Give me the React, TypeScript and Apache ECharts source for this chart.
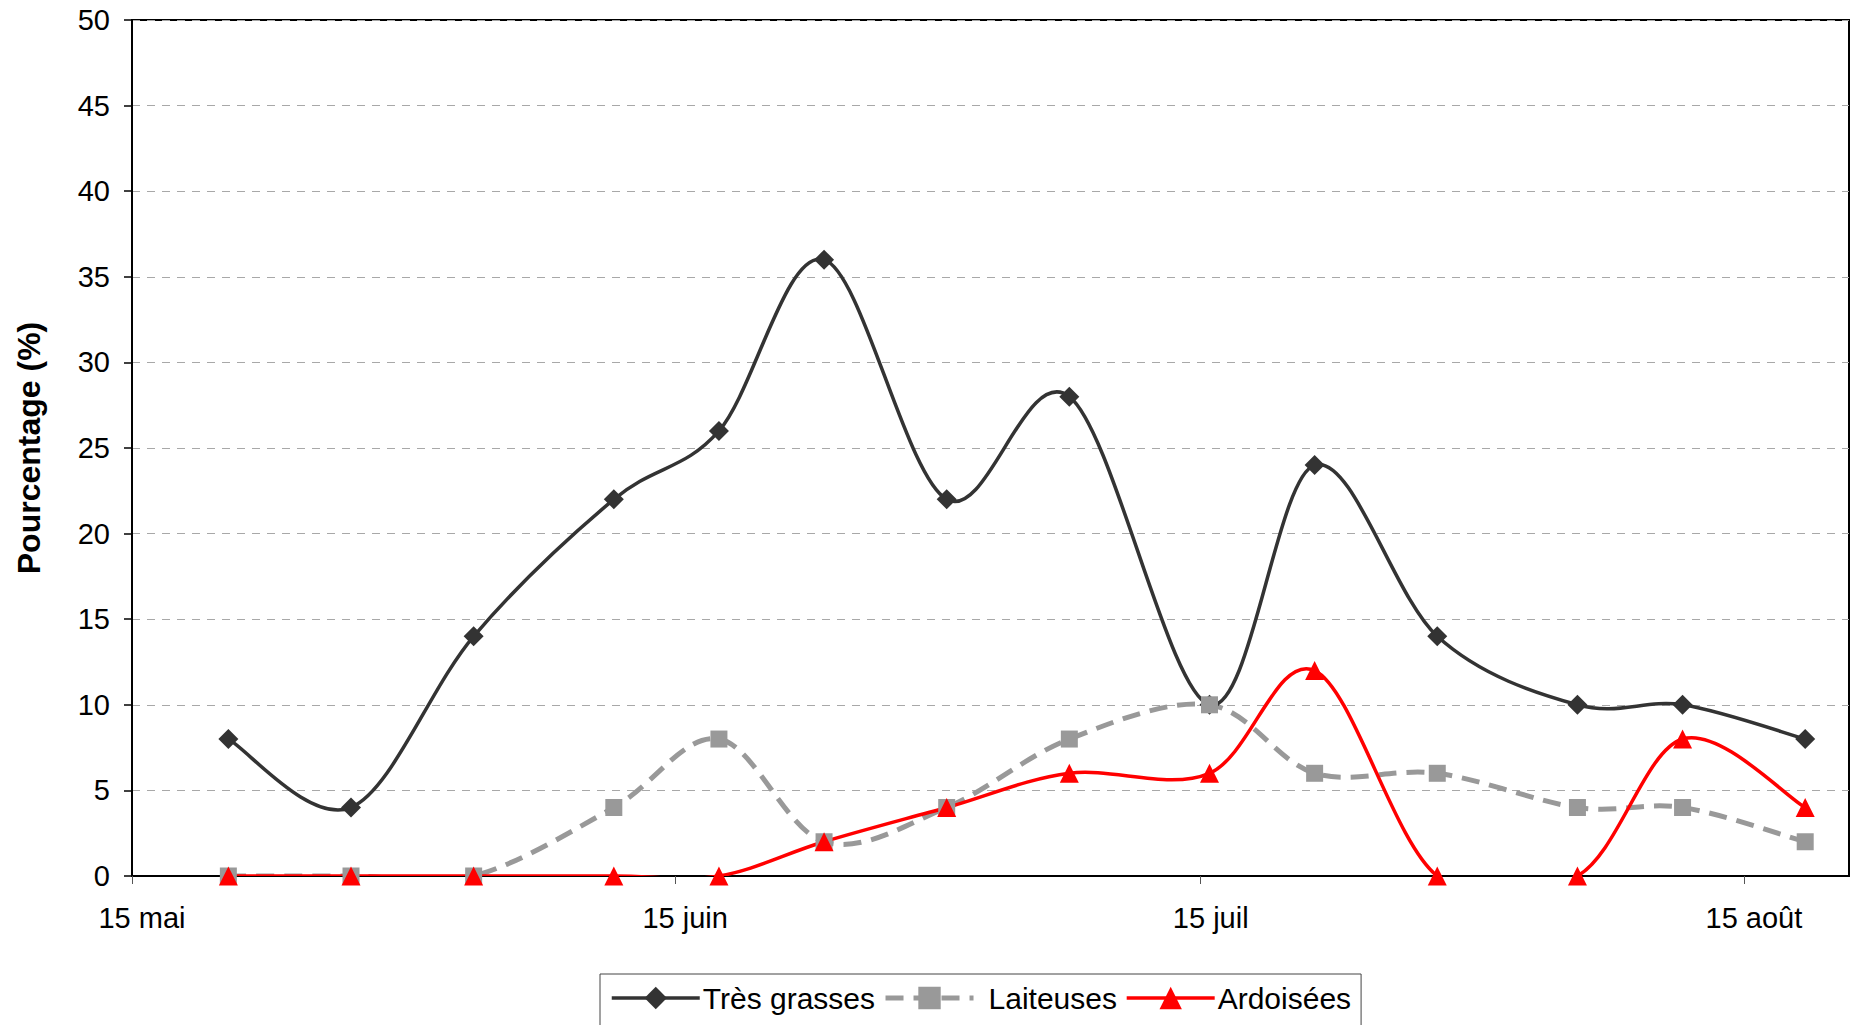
import React, { useEffect, useRef } from "react";
import * as echarts from "echarts";

// Sampling dates (month-day)
const sampleDates = ["05-20", "05-27", "06-03", "06-11", "06-17", "06-23", "06-30", "07-07", "07-15", "07-21", "07-28", "08-05", "08-11", "08-18"];
const tresGrasses = [8, 4, 14, 22, 26, 36, 22, 28, 10, 24, 14, 10, 10, 8];
const laiteuses = [0, 0, 0, 4, 8, 2, 4, 8, 10, 6, 6, 4, 4, 2];
const ardoisees = [0, 0, 0, 0, 0, 2, 4, 6, 6, 12, 0, 0, 8, 4];

const tickDates = ["05-15", "06-15", "07-15", "08-15"];
const tickLabels = ["15 mai", "15 juin", "15 juil", "15 août"];
const axisEndDate = "08-21";

const seriesNames = ["Très grasses", "Laiteuses", "Ardoisées"];

function dayOffset(md: string): number {
  const [m, d] = md.split("-").map(Number);
  const base = Date.UTC(2000, 4, 15);
  return (Date.UTC(2000, m - 1, d) - base) / 86400000;
}

const FONT = "'Liberation Sans', Arial, sans-serif";

type Style = { color: string; width: number; dash?: number[] };

const styles: Style[] = [
  { color: "#333333", width: 3.5 },
  { color: "#999999", width: 5, dash: [18, 10] },
  { color: "#ff0000", width: 3.5 },
];

export default function App() {
  const ref = useRef<HTMLDivElement>(null);
  useEffect(() => {
    if (!ref.current) return;
    const chart = echarts.init(ref.current, undefined, { renderer: "svg" });
    const xs = sampleDates.map((d) => dayOffset(d) + 0.5);
    const tickVals = tickDates.map(dayOffset);
    const mk = (vals: number[]) => vals.map((v, i) => [xs[i], v]);

    // Excel-like (Catmull-Rom) smoothed curve drawn through the axes' scales
    const curveSeries = (vals: number[], st: Style) => ({
      type: "custom",
      clip: true,
      silent: true,
      data: mk(vals),
      encode: { x: 0, y: 1 },
      renderItem: (params: any, api: any) => {
        if (params.dataIndex !== 0) return null;
        const pts = vals.map((v, i) => api.coord([xs[i], v]));
        const n = pts.length;
        let d = `M${pts[0][0]},${pts[0][1]}`;
        for (let i = 0; i < n - 1; i++) {
          const p0 = pts[Math.max(i - 1, 0)];
          const p1 = pts[i];
          const p2 = pts[i + 1];
          const p3 = pts[Math.min(i + 2, n - 1)];
          const c1x = p1[0] + (p2[0] - p0[0]) / 6;
          const c1y = p1[1] + (p2[1] - p0[1]) / 6;
          const c2x = p2[0] - (p3[0] - p1[0]) / 6;
          const c2y = p2[1] - (p3[1] - p1[1]) / 6;
          d += ` C${c1x},${c1y} ${c2x},${c2y} ${p2[0]},${p2[1]}`;
        }
        return {
          type: "path",
          shape: { pathData: d },
          style: {
            fill: "none",
            stroke: st.color,
            lineWidth: st.width,
            lineDash: st.dash || null,
            lineJoin: "round",
          },
        };
      },
    });

    const markerSeries = (name: string, vals: number[], symbol: string, size: number, st: Style) => ({
      name,
      type: "line",
      data: mk(vals),
      symbol,
      symbolSize: size,
      showAllSymbol: true,
      lineStyle: { color: st.color, width: st.width, opacity: 0, type: st.dash || "solid" },
      itemStyle: { color: st.color },
      clip: false,
    });

    chart.setOption({
      animation: false,
      backgroundColor: "#fff",
      textStyle: { fontFamily: FONT },
      grid: {
        left: 132,
        top: 20,
        right: 2,
        bottom: 149,
        show: true,
        borderColor: "#000",
        borderWidth: 2,
        containLabel: false,
      },
      legend: {
        left: 600,
        top: 974,
        orient: "horizontal",
        padding: [9, 10, 30, 10],
        itemWidth: 88,
        itemHeight: 28,
        itemGap: 8,
        borderColor: "#444",
        borderWidth: 1,
        textStyle: { fontSize: 30, color: "#000", fontFamily: FONT, padding: [0, 0, 0, -2] },
        data: seriesNames.map((name, i) => ({
          name,
          lineStyle: {
            color: styles[i].color,
            width: styles[i].width,
            opacity: 1,
            type: styles[i].dash || "solid",
          },
          textStyle: i === 1 ? { padding: [0, 0, 0, 10] } : undefined,
        })),
      },
      xAxis: {
        type: "value",
        min: 0,
        max: dayOffset(axisEndDate),
        axisLine: { show: true, onZero: false, lineStyle: { color: "#000", width: 2 } },
        axisTick: {
          show: true,
          length: 8,
          customValues: tickVals,
          lineStyle: { color: "#555", width: 1 },
        },
        axisLabel: {
          customValues: tickVals,
          fontSize: 29,
          color: "#000",
          margin: 27,
          fontFamily: FONT,
          padding: [0, 0, 0, 20],
          formatter: (v: number) => {
            const i = tickVals.findIndex((t) => Math.abs(t - v) < 0.01);
            return i >= 0 ? tickLabels[i] : "";
          },
        },
        splitLine: { show: false },
      },
      yAxis: {
        type: "value",
        min: 0,
        max: 50,
        interval: 5,
        name: "Pourcentage (%)",
        nameLocation: "middle",
        nameGap: 87,
        nameTextStyle: { fontSize: 32, fontWeight: "bold", color: "#000", fontFamily: FONT },
        axisLine: { show: true, lineStyle: { color: "#000", width: 2 } },
        axisTick: { show: true, length: 8, lineStyle: { color: "#000", width: 1.5 } },
        axisLabel: { fontSize: 29, color: "#000", margin: 22, fontFamily: FONT },
        splitLine: { show: true, lineStyle: { color: "#a8a8a8", width: 1, type: [8, 7] } },
      },
      series: [
        curveSeries(tresGrasses, styles[0]),
        markerSeries(seriesNames[0], tresGrasses, "diamond", 20, styles[0]),
        curveSeries(laiteuses, styles[1]),
        markerSeries(seriesNames[1], laiteuses, "rect", 17, styles[1]),
        curveSeries(ardoisees, styles[2]),
        markerSeries(seriesNames[2], ardoisees, "triangle", 19, styles[2]),
      ],
    });
    return () => chart.dispose();
  }, []);
  return (
    <div
      ref={ref}
      style={{ position: "fixed", left: 0, top: 0, width: 1851, height: 1025, background: "#fff" }}
    />
  );
}
